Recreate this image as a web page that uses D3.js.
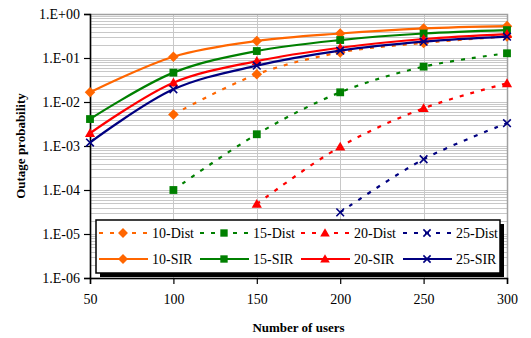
<!DOCTYPE html>
<html>
<head>
<meta charset="utf-8">
<script src="https://cdn.jsdelivr.net/npm/d3@7"></script>
<style>
  body { margin: 0; background: #fff; }
  text { font-family: "Liberation Serif", "Times New Roman", serif; }
</style>
</head>
<body>
<div id="chart"></div>
<script>
// data
var users = [50, 100, 150, 200, 250, 300];
var sir10 = [0.0166, 0.107, 0.243, 0.36, 0.47, 0.53];
var sir15 = [0.0041, 0.0465, 0.144, 0.256, 0.36, 0.43];
var sir20 = [0.00195, 0.0275, 0.085, 0.171, 0.27, 0.35];
var sir25 = [0.0012, 0.0194, 0.067, 0.147, 0.235, 0.305];
var dist10 = [null, 0.0052, 0.0427, 0.134, 0.22, 0.31];
var dist15 = [null, 0.0001, 0.00185, 0.0166, 0.0636, 0.128];
var dist20 = [null, null, 0.000048, 0.00096, 0.0072, 0.0266];
var dist25 = [null, null, null, 0.000031, 0.0005, 0.0033];
var yTicks = [1, 1e-1, 1e-2, 1e-3, 1e-4, 1e-5, 1e-6];
var yTickLabels = ['1.E+00', '1.E-01', '1.E-02', '1.E-03', '1.E-04', '1.E-05', '1.E-06'];

var series = [
    {name: '10-Dist', values: dist10, color: '#FF6600', dash: true, marker: 'diamond'},
    {name: '15-Dist', values: dist15, color: '#008000', dash: true, marker: 'square'},
    {name: '20-Dist', values: dist20, color: '#FF0000', dash: true, marker: 'triangle'},
    {name: '25-Dist', values: dist25, color: '#000080', dash: true, marker: 'x'},
    {name: '10-SIR', values: sir10, color: '#FF6600', dash: false, marker: 'diamond'},
    {name: '15-SIR', values: sir15, color: '#008000', dash: false, marker: 'square'},
    {name: '20-SIR', values: sir20, color: '#FF0000', dash: false, marker: 'triangle'},
    {name: '25-SIR', values: sir25, color: '#000080', dash: false, marker: 'x'}
];

var svgwidth = 531, svgheight = 338;
var margin = {top: 14, left: 90, right: 24, bottom: 60};
var w = svgwidth - margin.left - margin.right;
var h = svgheight - margin.top - margin.bottom;

var svg = d3.select('#chart').append('svg')
    .attr('width', svgwidth)
    .attr('height', svgheight);

var g = svg.append('g')
    .attr('transform', 'translate(' + margin.left + ',' + margin.top + ')');

var x = d3.scaleLinear().domain([50, 300]).range([0, w]);
var y = d3.scaleLog().domain([1e-6, 1]).range([h, 0]);

// grid lines: minor horizontal lines in every decade
var minor = [];
for (var e = -6; e < 0; e++) {
    for (var k = 1; k < 10; k++) minor.push(k * Math.pow(10, e));
}
g.append('g').selectAll('line').data(minor).enter().append('line')
    .attr('x1', 0).attr('x2', w)
    .attr('y1', function (d) { return Math.round(y(d)) + 0.5; })
    .attr('y2', function (d) { return Math.round(y(d)) + 0.5; })
    .attr('stroke', '#c8c8c8').attr('stroke-width', 1);
g.append('g').selectAll('line').data(users).enter().append('line')
    .attr('y1', 0).attr('y2', h)
    .attr('x1', function (d) { return Math.round(x(d)) + 0.5; })
    .attr('x2', function (d) { return Math.round(x(d)) + 0.5; })
    .attr('stroke', '#c8c8c8').attr('stroke-width', 1);

// gray frame top/right
g.append('rect').attr('x', 0.5).attr('y', 0.5).attr('width', w).attr('height', h)
    .attr('fill', 'none').attr('stroke', '#a0a0a0').attr('stroke-width', 1.5);

// axes
var yAxis = d3.axisLeft(y).tickValues(yTicks).tickSize(6).tickPadding(4)
    .tickFormat(function (d, i) { return yTickLabels[i]; });
var gy = g.append('g').call(yAxis);
var xAxis = d3.axisBottom(x).tickValues(users).tickSize(6).tickPadding(10);
var gx = g.append('g').attr('transform', 'translate(0,' + h + ')').call(xAxis);
[gx, gy].forEach(function (a) {
    a.select('.domain').attr('stroke', '#000').attr('stroke-width', 1.5);
    a.selectAll('.tick line').attr('stroke', '#000').attr('stroke-width', 1.2);
    a.selectAll('.tick text').attr('font-size', '14px').attr('fill', '#000')
        .style('font-family', '"Liberation Serif", serif');
});

// marker drawing
function drawMarker(sel, type, color, size) {
    if (type === 'diamond') {
        var s = size * 0.62;
        sel.append('path').attr('d', 'M0,' + (-s) + 'L' + s + ',0L0,' + s + 'L' + (-s) + ',0Z')
            .attr('fill', color);
    } else if (type === 'square') {
        var q = size * 0.46;
        sel.append('rect').attr('x', -q).attr('y', -q).attr('width', 2 * q).attr('height', 2 * q)
            .attr('fill', color);
    } else if (type === 'triangle') {
        var t = size * 0.6;
        sel.append('path').attr('d', 'M0,' + (-t) + 'L' + t + ',' + (t * 0.75) + 'L' + (-t) + ',' + (t * 0.75) + 'Z')
            .attr('fill', color);
    } else {
        var c = size * 0.45;
        sel.append('path').attr('d', 'M' + (-c) + ',' + (-c) + 'L' + c + ',' + c + 'M' + (-c) + ',' + c + 'L' + c + ',' + (-c))
            .attr('stroke', color).attr('stroke-width', 1.6).attr('fill', 'none');
    }
}

var line = d3.line()
    .defined(function (d) { return d[1] !== null; })
    .x(function (d) { return x(d[0]); })
    .y(function (d) { return y(d[1]); })
    .curve(d3.curveCatmullRom.alpha(0.5));

series.forEach(function (s) {
    var pts = users.map(function (u, i) { return [u, s.values[i]]; })
        .filter(function (p) { return p[1] !== null; });
    g.append('path').datum(pts)
        .attr('d', line)
        .attr('fill', 'none')
        .attr('stroke', s.color)
        .attr('stroke-width', 2.2)
        .attr('stroke-dasharray', s.dash ? '4,7' : null);
    var mg = g.append('g').selectAll('g').data(pts).enter().append('g')
        .attr('transform', function (d) { return 'translate(' + x(d[0]) + ',' + y(d[1]) + ')'; });
    mg.each(function () { drawMarker(d3.select(this), s.marker, s.color, 8.5); });
});

// legend
var lx = 96, ly = 220, lw = 404, lh = 53;
svg.append('rect').attr('x', lx + 4).attr('y', ly + 4).attr('width', lw).attr('height', lh).attr('fill', '#000');
svg.append('rect').attr('x', lx).attr('y', ly).attr('width', lw).attr('height', lh)
    .attr('fill', '#fff').attr('stroke', '#000').attr('stroke-width', 1.5);
var colX = [99, 200, 301, 403];
var rowY = [233, 259];
series.forEach(function (s, i) {
    var cx = colX[i % 4], cy = rowY[Math.floor(i / 4)];
    var lg = svg.append('g');
    lg.append('line').attr('x1', cx).attr('x2', cx + 49).attr('y1', cy).attr('y2', cy)
        .attr('stroke', s.color).attr('stroke-width', 2.2)
        .attr('stroke-dasharray', s.dash ? '4,7' : null);
    var m = lg.append('g').attr('transform', 'translate(' + (cx + 24) + ',' + cy + ')');
    drawMarker(m, s.marker, s.color, 8);
    lg.append('text').attr('x', cx + 53).attr('y', cy + 5)
        .attr('font-size', '14px').attr('fill', '#000').text(s.name);
});

// axis titles
svg.append('text').attr('x', margin.left + w / 2).attr('y', 332)
    .attr('text-anchor', 'middle').attr('font-size', '13px').attr('font-weight', 'bold')
    .text('Number of users');
svg.append('text').attr('transform', 'translate(25,' + (margin.top + h / 2) + ') rotate(-90)')
    .attr('text-anchor', 'middle').attr('font-size', '13px').attr('font-weight', 'bold')
    .text('Outage probability');
</script>
</body>
</html>
